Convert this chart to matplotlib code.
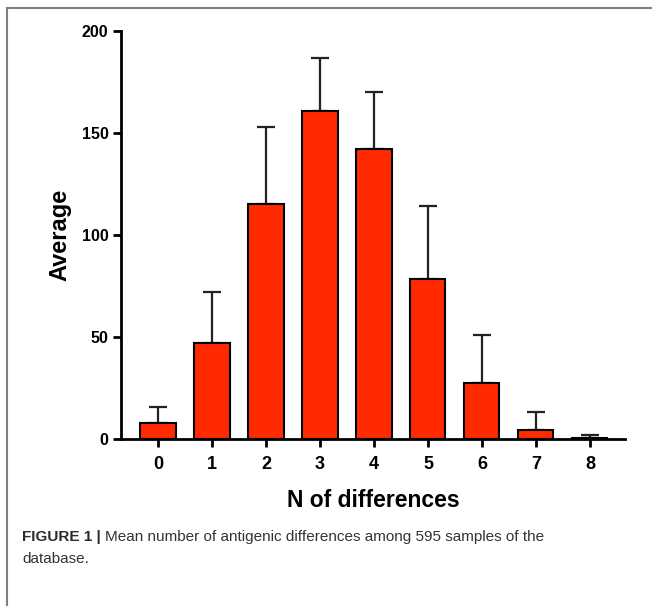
import matplotlib as mpl
import matplotlib.pyplot as plt
import numpy as np
from matplotlib.lines import Line2D

mpl.rcParams['font.family'] = ['Liberation Sans', 'DejaVu Sans']

# data
n_diff = [0, 1, 2, 3, 4, 5, 6, 7, 8]
average = [8, 47, 115, 161, 142, 78.5, 27.5, 4.5, 0.5]
upper = [15.5, 72, 153, 187, 170, 114, 51, 13, 2]
y_ticks = [0, 50, 100, 150, 200]

err = np.array(upper) - np.array(average)

fig = plt.figure(figsize=(6.52, 6.06), dpi=100)
ax = fig.add_axes([0.1856, 0.2756, 0.773, 0.6732])

ax.bar(n_diff, average, width=0.65, color='#ff2a00', edgecolor='black',
       linewidth=1.5, zorder=3)
ax.errorbar(n_diff, average, yerr=[np.zeros(len(err)), err], fmt='none',
            ecolor='#222222', elinewidth=1.6, capsize=6.5, capthick=1.6, zorder=2)

ax.set_xlim(-0.685, 8.65)
ax.set_ylim(0, 200)
ax.set_xticks(n_diff)
ax.set_yticks(y_ticks)
for spine in ['top', 'right']:
    ax.spines[spine].set_visible(False)
for spine in ['left', 'bottom']:
    ax.spines[spine].set_linewidth(2)
ax.tick_params(axis='both', direction='out', length=6, width=2)
ax.tick_params(axis='x', pad=6, labelsize=13)
ax.tick_params(axis='y', pad=3, labelsize=11.5)
for lab in ax.get_xticklabels() + ax.get_yticklabels():
    lab.set_fontweight('bold')

ax.set_ylabel("Average", fontsize=17, fontweight='bold', labelpad=7.5)
ax.set_xlabel("N of differences", fontsize=16.5, fontweight='bold', labelpad=12)

# outer frame lines (left and top) like the journal page
fig.add_artist(Line2D([6.5 / 652, 6.5 / 652], [0, 1 - 8 / 606], color='#808080',
                      linewidth=1.5, transform=fig.transFigure))
fig.add_artist(Line2D([6.5 / 652, 1], [1 - 8 / 606, 1 - 8 / 606], color='#808080',
                      linewidth=1.5, transform=fig.transFigure))

# caption
cap_y1 = 1 - 537 / 606
t1 = fig.text(22 / 652, cap_y1, "FIGURE 1 |", fontsize=11, fontweight='bold',
              color='#2b2b2b', va='center')
fig.canvas.draw()
bb = t1.get_window_extent(renderer=fig.canvas.get_renderer())
fig.text((bb.x1 + 4) / 652, cap_y1,
         "Mean number of antigenic differences among 595 samples of the",
         fontsize=11, color='#333333', va='center')
fig.text(22 / 652, 1 - 559 / 606, "database.", fontsize=11, color='#333333',
         va='center')

plt.savefig("out.png", dpi=100)
